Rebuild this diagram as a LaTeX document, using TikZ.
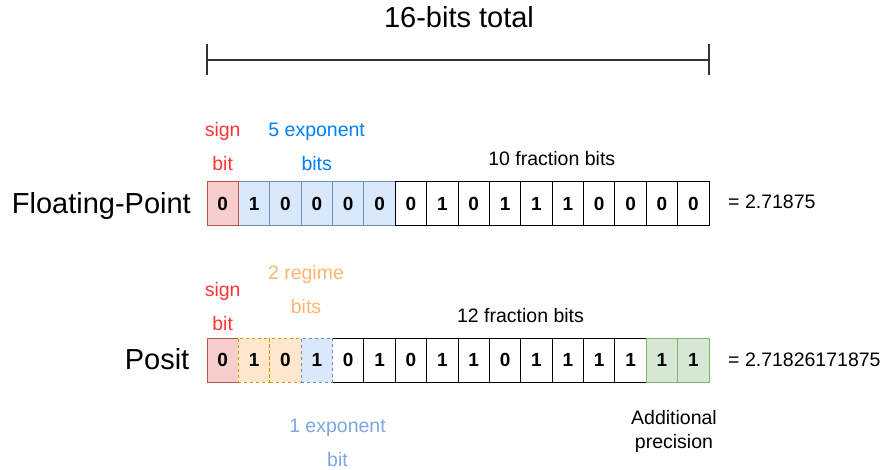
\documentclass[tikz,border=0pt]{standalone}
\usepackage{fontspec}
\setmainfont{Liberation Sans}
\definecolor{signfill}{HTML}{F8CECC}
\definecolor{signdraw}{HTML}{B85450}
\definecolor{expfill}{HTML}{DAE8FC}
\definecolor{expdraw}{HTML}{6C8EBF}
\definecolor{regfill}{HTML}{FFE6CC}
\definecolor{regdraw}{HTML}{D79B00}
\definecolor{addfill}{HTML}{D5E8D4}
\definecolor{adddraw}{HTML}{82B366}
\definecolor{signtext}{HTML}{FF3333}
\definecolor{exptext}{HTML}{007FFF}
\definecolor{regtext}{HTML}{FFB570}
\definecolor{exp1text}{HTML}{7EA6E0}
\definecolor{dimline}{HTML}{333333}
\begin{document}
\begin{tikzpicture}[x=1pt,y=-1pt,
  cell/.style={draw=black, line width=1pt, fill=white, minimum width=31.375pt, minimum height=44pt,
    inner sep=0pt, outer sep=0pt, anchor=center, font=\fontsize{19}{22}\selectfont\bfseries},
  signc/.style={fill=signfill, draw=signdraw},
  expc/.style={fill=expfill, draw=expdraw},
  expd/.style={fill=expfill, draw=expdraw, dash pattern=on 3pt off 3pt},
  regc/.style={fill=regfill, draw=regdraw, dash pattern=on 3pt off 3pt},
  addc/.style={fill=addfill, draw=adddraw},
  lbl/.style={inner sep=0pt, anchor=base, align=center, font=\fontsize{19.5}{34}\selectfont},
  big/.style={inner sep=0pt, anchor=base east, font=\fontsize{29}{32}\selectfont},
  dim/.style={draw=dimline, line width=1.2pt}
]
\useasboundingbox (0,0) rectangle (885,470);

% total-width bar
\node[inner sep=0pt, anchor=base, font=\fontsize{29}{32}\selectfont] (total) at (459,28) {16-bits total};
\coordinate (bl) at (207,60);
\coordinate (br) at (709,60);
\coordinate (blt) at (207,44);
\coordinate (blb) at (207,75);
\coordinate (brt) at (709,44);
\coordinate (brb) at (709,75);
\draw[dim] (bl) -- (br);
\draw[dim] (blt) -- (blb);
\draw[dim] (brt) -- (brb);

% Floating-point row
\node[big] (fp) at (191,213.5) {Floating-Point};
\foreach \i/\b in {2/1,3/0,4/0,5/0,6/0}
  \node[cell,expc] (f\i) at ({207+(\i-0.5)*31.375},203.5) {\b};
\node[cell,signc] (f1) at ({207+0.5*31.375},203.5) {0};
\foreach \i/\b in {7/0,8/1,9/0,10/1,11/1,12/1,13/0,14/0,15/0,16/0}
  \node[cell] (f\i) at ({207+(\i-0.5)*31.375},203.5) {\b};
\node[lbl, text=signtext] (fsign) at (222.7,171) {sign\\bit};
\node[lbl, text=exptext] (fexp) at (316.7,171) {5 exponent\\bits};
\node[lbl] (ffrac) at (551.8,166) {10 fraction bits};
\node[inner sep=0pt, anchor=base west, font=\fontsize{19.5}{24}\selectfont] (fval) at (728,209) {= 2.71875};

% Posit row
\node[big] (ps) at (189.5,369.5) {Posit};
\node[cell,signc] (p1) at ({207+0.5*31.375},360) {0};
\foreach \i/\b in {5/0,6/1,7/0,8/1,9/1,10/0,11/1,12/1,13/1,14/1}
  \node[cell] (p\i) at ({207+(\i-0.5)*31.375},360) {\b};
\node[cell,regc] (p2) at ({207+1.5*31.375},360) {1};
\node[cell,regc] (p3) at ({207+2.5*31.375},360) {0};
\node[cell,expd] (p4) at ({207+3.5*31.375},360) {1};
\node[cell,addc] (p15) at ({207+14.5*31.375},360) {1};
\node[cell,addc] (p16) at ({207+15.5*31.375},360) {1};
\node[lbl, text=signtext] (psign) at (222.7,330) {sign\\bit};
\node[lbl, text=regtext] (preg) at (306,313) {2 regime\\bits};
\node[lbl] (pfrac) at (520.5,322.5) {12 fraction bits};
\node[lbl, text=exp1text] (pexp) at (337.5,466) {1 exponent\\bit};
\node[lbl, font=\fontsize{19.5}{23.5}\selectfont] (padd) at (674,448) {Additional\\precision};
\node[inner sep=0pt, anchor=base west, font=\fontsize{19.5}{24}\selectfont] (pval) at (728,366.5) {= 2.71826171875};
\end{tikzpicture}
\end{document}
